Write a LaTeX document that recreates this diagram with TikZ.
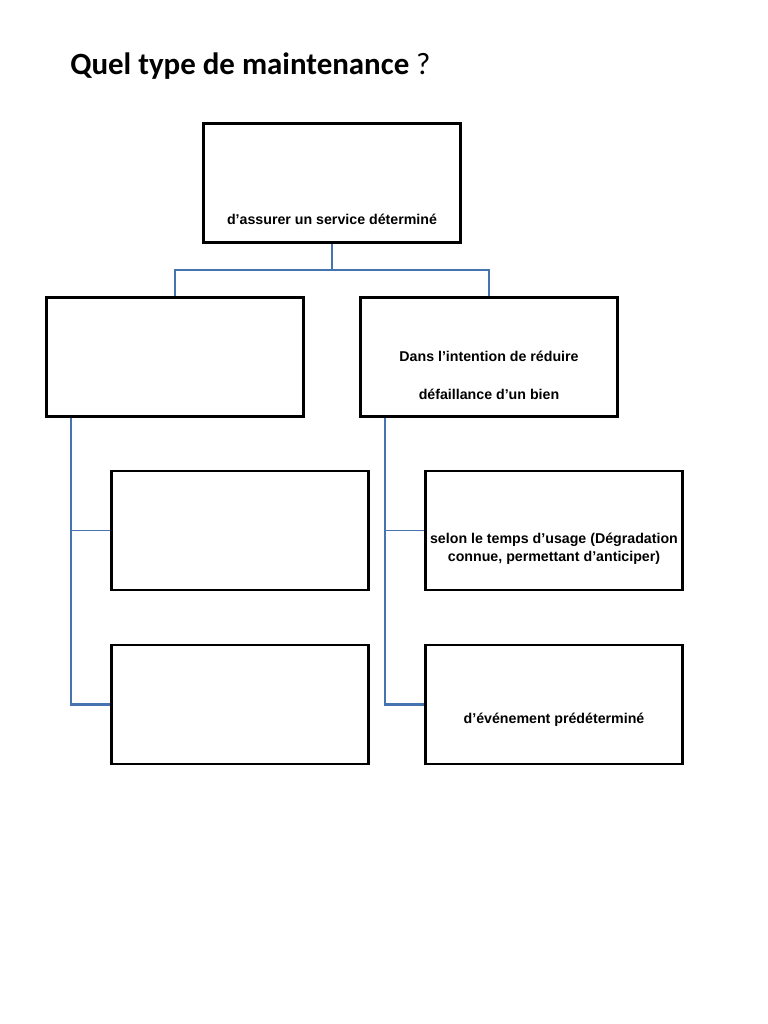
\documentclass[tikz,border=0pt]{standalone}
\usepackage{fontspec}
\setmainfont{Liberation Sans}
\newfontfamily\titrefont{Carlito}
\usetikzlibrary{positioning,calc}
\definecolor{lienbleu}{RGB}{70,116,176}

\begin{document}
\begin{tikzpicture}[x=0.025cm,y=-0.025cm,
  boite/.style={draw,line width=1.9pt,minimum width=6.43cm,minimum height=2.98cm,inner sep=0pt},
  texte/.style={align=center,inner sep=0pt,font=\bfseries\fontsize{10.1}{12.8}\selectfont},
  titre/.style={inner sep=0pt,font=\titrefont\bfseries\fontsize{22}{26}\selectfont},
  lien/.style={draw=lienbleu,line width=1.5pt},
  lienfin/.style={draw=lienbleu,line width=1pt}]
 \useasboundingbox (0,0) rectangle (768,1024);

 % ---- titre ----
 \node[titre,anchor=base west] (titre) at (70,75) {Quel type de maintenance {\mdseries ?}};

 % ---- boites ----
 \node[boite] (haut) at (332,183) {};
 \node[boite] (gauche) at (175,357) {};
 \node[boite] (droite) at (489,357) {};
 \node[boite] (g1) at (240,530.5) {};
 \node[boite] (g2) at (240,704.5) {};
 \node[boite] (d1) at (554,530.5) {};
 \node[boite] (d2) at (554,704.5) {};

 % ---- textes ----
 \node[texte] (thaut) at ($(haut)+(0,36)$) {d’assurer un service déterminé};
 \node[texte,font=\bfseries\fontsize{10.1}{27}\selectfont] (tdroite) at ($(droite)+(0,18)$)
   {Dans l’intention de réduire\\défaillance d’un bien};
 \node[texte] (td1) at ($(d1)+(0,18.5)$) {selon le temps d’usage (Dégradation\\connue, permettant d’anticiper)};
 \node[texte] (td2) at ($(d2)+(0,15.5)$) {d’événement prédéterminé};

 % ---- liens ----
 \draw[lienfin] (haut.south) -- ++(0,26) coordinate (fourche);
 \draw[lien] (gauche.north) |- (fourche) -| (droite.north);

 \coordinate (gtige) at ($(gauche.south west)+(26,0)$);
 \coordinate (dtige) at ($(droite.south west)+(26,0)$);
 \draw[lien] (gtige) |- (g2.west);
 \draw[lienfin] (g1.west) -- (g1.west -| gtige);
 \draw[lien] (dtige) |- (d2.west);
 \draw[lienfin] (d1.west) -- (d1.west -| dtige);
\end{tikzpicture}
\end{document}
